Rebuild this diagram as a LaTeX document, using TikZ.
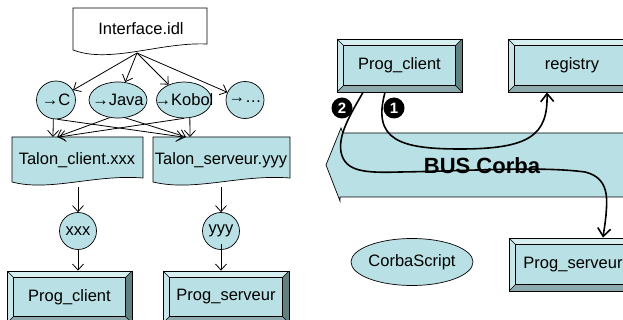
\documentclass[tikz,border=0pt]{standalone}
\usepackage{fontspec}
\setmainfont{Liberation Sans}
\usetikzlibrary{arrows.meta,shapes.geometric,calc}
\definecolor{cy}{HTML}{B9E0E4}
\definecolor{bevtop}{HTML}{D6EEF0}
\definecolor{bevleft}{HTML}{C9E6E9}
\definecolor{bevbot}{HTML}{8DABAE}
\definecolor{bevright}{HTML}{62807F}
\newcommand\bevw{6.5pt}
\newcommand\tight[1]{\makebox[0pt]{#1}}
\begin{document}
\begin{tikzpicture}[x=1pt,y=-1pt,
  lbl/.style={font=\fontsize{16.5}{18}\selectfont},
  oval/.style={ellipse,draw,fill=cy,inner sep=0pt,line width=0.7pt,lbl},
  docshape/.style={draw,line width=0.7pt},
  bevelbox/.style={rectangle,draw,fill=cy,inner sep=0pt,line width=0.8pt,lbl,
    path picture={
      \path (path picture bounding box.north west) coordinate (pNW)
            (path picture bounding box.north east) coordinate (pNE)
            (path picture bounding box.south east) coordinate (pSE)
            (path picture bounding box.south west) coordinate (pSW);
      \path (pNW) ++(\bevw,-\bevw) coordinate (iNW)
            (pNE) ++(-\bevw,-\bevw) coordinate (iNE)
            (pSE) ++(-\bevw,\bevw) coordinate (iSE)
            (pSW) ++(\bevw,\bevw) coordinate (iSW);
      \fill[bevtop] (pNW) -- (pNE) -- (iNE) -- (iNW) -- cycle;
      \fill[bevleft] (pNW) -- (iNW) -- (iSW) -- (pSW) -- cycle;
      \fill[bevbot] (pSW) -- (iSW) -- (iSE) -- (pSE) -- cycle;
      \fill[bevright] (pNE) -- (pSE) -- (iSE) -- (iNE) -- cycle;
      \draw[line width=0.6pt] (iNW) rectangle (iSE)
        (pNW) -- (iNW) (pNE) -- (iNE) (pSE) -- (iSE) (pSW) -- (iSW);
    }},
  arr/.style={-{Straight Barb[length=6pt,width=11pt]},line width=0.8pt},
  flow/.style={-{Straight Barb[length=8pt,width=13pt]},line width=1.6pt},
  num/.style={circle,fill=black,text=white,inner sep=0pt,minimum size=21pt,font=\fontsize{15}{15}\selectfont\bfseries}
]
\useasboundingbox (0,0) rectangle (623,320);
\clip (0,0) rectangle (623,320);

% ---------- left part ----------
\draw[docshape,fill=white] (73,8) -- (207,8) -- (207,44) .. controls (160,42) and (110,64) .. (73,50) -- cycle;
\node[lbl] (idl) at (141,29) {Interface.idl};
\coordinate (idlout) at (137,53);

\node[oval,minimum width=39pt,minimum height=38pt] (eC) at (56,100) {\tight{→C}};
\node[oval,minimum width=58pt,minimum height=36pt] (eJ) at (118,100) {\tight{→Java}};
\node[oval,minimum width=55pt,minimum height=36pt] (eK) at (184,100) {\tight{→Kobol}};
\node[oval,minimum width=38pt,minimum height=37pt] (eD) at (245,100) {\tight{→…}};

\draw[arr] (idlout) -- (eC);
\draw[arr] (idlout) -- (eJ);
\draw[arr] (idlout) -- (eK);
\draw[arr] (idlout) -- (eD);

\draw[docshape,fill=cy] (12,137) -- (143,137) -- (143,178) .. controls (95,174) and (50,192) .. (12,182) -- cycle;
\node[lbl] (tc) at (77,160) {Talon\_client.xxx};
\draw[docshape,fill=cy] (153,137) -- (290,137) -- (290,178) .. controls (240,174) and (195,192) .. (153,182) -- cycle;
\node[lbl] (ts) at (221,160) {Talon\_serveur.yyy};

\coordinate (tcin1) at (53,137);
\coordinate (tcin2) at (57,137);
\coordinate (tcin3) at (59,137);
\coordinate (tsin1) at (183,137);
\coordinate (tsin2) at (186,137);
\coordinate (tsin3) at (190,137);
\draw[arr] (eC.-98) -- (tcin1);
\draw[arr] (eC.-86) -- (tsin1);
\draw[arr] (eJ.-115) -- (tcin2);
\draw[arr] (eJ.-68) -- (tsin2);
\draw[arr] (eK.-90) -- (tcin3);
\draw[arr] (eK.-72) -- (tsin3);

\node[oval,circle,minimum size=37pt] (xxx) at (78,231) {\tight{xxx}};
\node[oval,circle,minimum size=37pt] (yyy) at (221,231) {\tight{yyy}};
\coordinate (tcout) at (78,187);
\coordinate (tsout) at (221,187);
\draw[arr] (tcout) -- (xxx);
\draw[arr] (tsout) -- (yyy);

\node[bevelbox,minimum width=125pt,minimum height=52pt] (pcl) at (69.5,297) {Prog\_client};
\node[bevelbox,minimum width=126pt,minimum height=52pt] (psl) at (226,297) {Prog\_serveur};
\draw[arr] (xxx) -- (xxx |- pcl.north);
\draw[arr] (yyy.center) ++(0,13) -- (yyy |- psl.north);

% ---------- right part ----------
\draw[docshape,fill=cy] (700,133) -- (343,133) -- (341,128) -- (326,165) -- (340,201) -- (340,197) -- (700,197) -- cycle;
\node[font=\fontsize{22}{24}\selectfont\bfseries] (bus) at (482,166) {BUS Corba};

\node[bevelbox,minimum width=125pt,minimum height=53pt] (pcr) at (399.5,65.5) {Prog\_client};
\node[bevelbox,minimum width=128pt,minimum height=53pt] (reg) at (572,65.5) {registry};
\node[bevelbox,minimum width=128pt,minimum height=53pt] (psr) at (573,264.5) {Prog\_serveur};
\node[oval,minimum width=122pt,minimum height=47pt] (cs) at (412,262) {\tight{CorbaScript}};

\node[num] (n2) at (342,108) {2};
\node[num] (n1) at (394,108) {1};

\coordinate (s1) at (385,92);
\coordinate (e1) at (547,92);
\draw[flow] (pcr.south -| s1) .. controls (372,140) and (400,149) .. (460,149)
  .. controls (530,149) and (548,135) .. (reg.south -| e1);
\coordinate (s2) at (363,92);
\coordinate (e2) at (603,238);
\draw[flow] (pcr.south -| s2) .. controls (350,115) and (338,135) .. (341,152)
  .. controls (345,172) and (365,173) .. (400,172)
  .. controls (470,171) and (540,166) .. (585,172)
  .. controls (610,178) and (607,200) .. (606,215)
  .. controls (605,225) and (604,230) .. (psr.north -| e2);
\end{tikzpicture}
\end{document}
